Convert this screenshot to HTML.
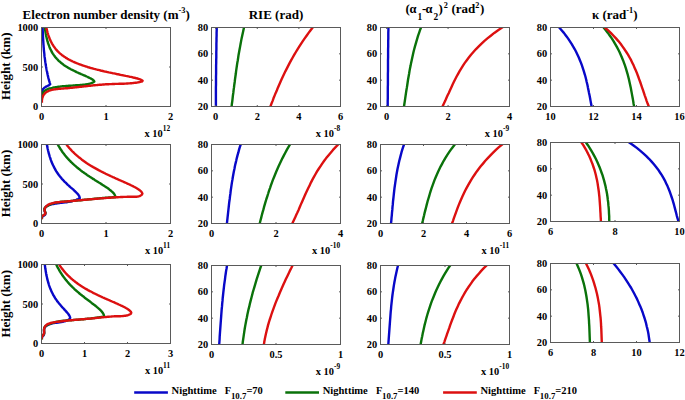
<!DOCTYPE html>
<html><head><meta charset="utf-8"><style>
html,body{margin:0;padding:0;background:#fff;}
svg{display:block;}
text{font-family:"Liberation Serif",serif;font-weight:bold;fill:#000;}
</style></head><body>
<svg width="685" height="400" viewBox="0 0 685 400">
<rect width="685" height="400" fill="#fff"/>

<text x="22.6" y="19" font-size="13">Electron number density (m<tspan font-size="8.3" dy="-6">-3</tspan><tspan dy="6">)</tspan></text>
<text x="276" y="19" font-size="13" text-anchor="middle">RIE (rad)</text>
<text y="13.1" font-size="13"><tspan x="405.5">(</tspan><tspan x="409.6" font-size="12.5">α</tspan><tspan x="417.6" font-size="9.4" dy="6.5">1</tspan><tspan x="422.1" dy="-6.5">-</tspan><tspan x="425.5" font-size="12.5">α</tspan><tspan x="433.6" font-size="9.4" dy="6.5">2</tspan><tspan x="438.6" dy="-6.5">)</tspan><tspan x="443.8" font-size="8.2" dy="-5.6">2</tspan><tspan x="451.4" dy="5.6">(rad</tspan><tspan x="475.3" font-size="8.2" dy="-5.6">2</tspan><tspan x="479.9" dy="5.6">)</tspan></text>
<text x="592" y="18.5" font-size="13">κ (rad<tspan font-size="8.3" dy="-5.2">-1</tspan><tspan dy="5.2">)</tspan></text>

<text x="0" y="0" font-size="13" text-anchor="middle" transform="translate(9.8,66.3) rotate(-90)">Height (km)</text>
<text x="0" y="0" font-size="13" text-anchor="middle" transform="translate(9.8,183.5) rotate(-90)">Height (km)</text>
<text x="0" y="0" font-size="13" text-anchor="middle" transform="translate(9.8,303.8) rotate(-90)">Height (km)</text>

<clipPath id="c00"><rect x="41.5" y="27.5" width="129" height="79"/></clipPath>
<g clip-path="url(#c00)">
<path d="M42.6,27.5 L42.6,28.4 L42.7,29.2 L42.7,30.1 L42.7,31.0 L42.8,31.8 L42.8,32.7 L42.9,33.6 L42.9,34.5 L42.9,35.3 L43.0,36.2 L43.0,37.1 L43.1,37.9 L43.1,38.8 L43.2,39.7 L43.2,40.6 L43.3,41.4 L43.3,42.3 L43.4,43.2 L43.4,44.0 L43.5,44.9 L43.6,45.8 L43.6,46.6 L43.7,47.5 L43.8,48.4 L43.8,49.2 L43.9,50.1 L44.0,51.0 L44.1,51.9 L44.2,52.7 L44.3,53.6 L44.4,54.4 L44.4,55.3 L44.5,56.2 L44.6,57.0 L44.8,57.9 L44.9,58.8 L45.0,59.6 L45.1,60.5 L45.2,61.4 L45.3,62.2 L45.5,63.1 L45.6,63.9 L45.7,64.8 L45.9,65.7 L46.0,66.5 L46.2,67.4 L46.3,68.2 L46.5,69.1 L46.6,69.9 L46.8,70.8 L47.0,71.6 L47.2,72.5 L47.3,73.3 L47.5,74.2 L47.7,75.0 L47.9,75.9 L48.1,76.7 L48.3,77.6 L48.5,78.4 L48.8,79.3 L49.0,80.1 L49.2,80.9 L49.5,81.8 L49.7,82.6 L50.0,83.5 L50.2,84.3 L49.8,84.6 L49.4,84.9 L48.9,85.2 L48.5,85.5 L48.0,85.7 L47.5,86.0 L47.1,86.2 L46.6,86.4 L46.1,86.7 L45.6,86.9 L45.2,87.2 L44.8,87.5 L44.3,87.8 L43.9,88.1 L43.6,88.5 L43.2,88.9 L42.9,89.3 L42.7,89.8 L42.3,91.4 L42.0,94.0" fill="none" stroke="#0808c8" stroke-width="2.4" stroke-linejoin="round" stroke-linecap="butt"/>
<path d="M44.8,27.5 L44.9,28.3 L45.0,29.1 L45.1,29.9 L45.3,30.8 L45.4,31.6 L45.5,32.4 L45.7,33.2 L45.8,34.0 L46.0,34.8 L46.1,35.7 L46.3,36.5 L46.5,37.3 L46.7,38.1 L46.9,38.9 L47.1,39.7 L47.3,40.5 L47.5,41.4 L47.8,42.2 L48.0,43.0 L48.3,43.8 L48.6,44.6 L48.9,45.4 L49.2,46.2 L49.5,47.1 L49.8,47.9 L50.2,48.7 L50.6,49.5 L51.0,50.3 L51.4,51.1 L51.8,52.0 L52.3,52.8 L52.8,53.6 L53.3,54.3 L53.7,54.9 L54.2,55.6 L54.7,56.3 L55.2,57.0 L55.8,57.7 L56.4,58.3 L57.0,59.0 L57.7,59.7 L58.3,60.4 L59.0,61.1 L59.6,61.6 L60.3,62.1 L60.9,62.7 L61.6,63.2 L62.3,63.8 L63.0,64.3 L63.7,64.9 L64.5,65.4 L65.3,65.9 L66.2,66.5 L67.0,67.0 L67.9,67.6 L68.6,68.0 L69.3,68.4 L70.1,68.8 L70.8,69.2 L71.6,69.6 L72.4,70.0 L73.2,70.4 L74.0,70.8 L74.8,71.2 L75.7,71.6 L76.6,72.1 L77.5,72.5 L78.4,72.9 L79.3,73.3 L80.2,73.7 L81.1,74.1 L82.1,74.5 L83.0,74.9 L84.0,75.3 L84.9,75.7 L85.8,76.1 L86.7,76.5 L87.7,76.9 L88.5,77.4 L89.4,77.8 L90.2,78.2 L91.0,78.6 L91.7,79.0 L92.5,79.5 L93.2,80.1 L93.9,80.7 L94.3,81.6 L93.6,82.1 L92.9,82.5 L92.1,82.8 L91.4,83.1 L90.6,83.3 L89.8,83.6 L89.0,83.8 L88.1,84.0 L87.3,84.1 L86.5,84.3 L85.6,84.4 L84.7,84.6 L83.9,84.7 L83.0,84.8 L82.1,84.9 L81.2,84.9 L80.3,85.0 L79.4,85.1 L78.6,85.2 L77.7,85.2 L76.8,85.3 L75.9,85.3 L75.0,85.4 L74.1,85.5 L73.2,85.5 L72.3,85.6 L71.4,85.6 L70.5,85.7 L69.6,85.7 L68.8,85.8 L67.9,85.9 L67.0,85.9 L66.1,86.0 L65.2,86.1 L64.3,86.1 L63.4,86.2 L62.6,86.3 L61.7,86.4 L60.8,86.5 L59.9,86.6 L59.0,86.7 L58.2,86.8 L57.3,86.9 L56.4,87.1 L55.6,87.2 L54.7,87.4 L53.9,87.5 L53.0,87.7 L52.2,87.9 L51.3,88.1 L50.5,88.3 L49.6,88.5 L48.8,88.7 L48.0,89.0 L47.2,89.3 L46.5,89.7 L45.1,90.5 L44.0,91.4 L43.0,92.7 L42.3,94.1 L42.1,95.0 L42.0,95.9 L41.9,96.9" fill="none" stroke="#0a720a" stroke-width="2.4" stroke-linejoin="round" stroke-linecap="butt"/>
<path d="M46.3,27.5 L46.5,28.3 L46.7,29.1 L46.9,29.9 L47.1,30.7 L47.3,31.5 L47.5,32.3 L47.7,33.1 L48.0,33.9 L48.2,34.8 L48.5,35.6 L48.8,36.4 L49.1,37.2 L49.4,38.0 L49.7,38.8 L50.0,39.6 L50.4,40.4 L50.8,41.2 L51.2,42.0 L51.6,42.8 L52.0,43.6 L52.5,44.4 L53.0,45.2 L53.4,45.9 L53.9,46.6 L54.4,47.2 L54.9,47.9 L55.4,48.6 L55.9,49.3 L56.5,49.9 L57.1,50.6 L57.8,51.3 L58.4,51.9 L59.1,52.6 L59.9,53.3 L60.5,53.8 L61.2,54.4 L61.8,54.9 L62.5,55.4 L63.3,56.0 L64.0,56.5 L64.8,57.1 L65.6,57.6 L66.5,58.1 L67.4,58.7 L68.1,59.1 L68.8,59.5 L69.6,59.9 L70.3,60.3 L71.1,60.7 L72.0,61.1 L72.8,61.5 L73.7,61.9 L74.6,62.3 L75.5,62.7 L76.5,63.1 L77.5,63.5 L78.5,63.9 L79.6,64.3 L80.7,64.7 L81.8,65.1 L82.6,65.4 L83.3,65.7 L84.1,65.9 L85.0,66.2 L85.8,66.5 L86.7,66.7 L87.5,67.0 L88.4,67.3 L89.3,67.5 L90.3,67.8 L91.2,68.1 L92.2,68.3 L93.2,68.6 L94.2,68.9 L95.2,69.1 L96.2,69.4 L97.3,69.7 L98.3,69.9 L99.4,70.2 L100.5,70.5 L101.7,70.8 L102.8,71.0 L104.0,71.3 L105.2,71.6 L106.4,71.8 L107.6,72.1 L108.8,72.4 L110.1,72.6 L111.3,72.9 L112.6,73.2 L113.9,73.4 L115.2,73.7 L116.5,74.0 L117.8,74.2 L119.1,74.5 L120.4,74.8 L121.7,75.1 L123.1,75.3 L124.4,75.6 L125.7,75.9 L127.0,76.1 L128.3,76.4 L129.5,76.7 L130.8,76.9 L132.0,77.2 L133.2,77.5 L134.3,77.7 L135.4,78.0 L136.5,78.3 L137.5,78.5 L138.4,78.8 L139.3,79.1 L140.1,79.4 L141.1,79.8 L141.9,80.2 L142.6,80.7 L142.0,81.5 L141.2,81.7 L140.4,81.9 L139.5,82.1 L138.7,82.3 L137.8,82.4 L136.9,82.6 L136.0,82.7 L135.1,82.8 L134.2,82.9 L133.3,83.0 L132.4,83.1 L131.5,83.2 L130.5,83.3 L129.6,83.4 L128.7,83.4 L127.7,83.5 L126.8,83.5 L125.8,83.6 L124.8,83.6 L123.9,83.7 L122.9,83.7 L122.0,83.7 L121.0,83.8 L120.0,83.8 L119.1,83.8 L118.1,83.9 L117.1,83.9 L116.2,83.9 L115.2,83.9 L114.3,84.0 L113.3,84.0 L112.4,84.0 L111.4,84.1 L110.5,84.1 L109.5,84.1 L108.6,84.2 L107.6,84.2 L106.7,84.3 L105.8,84.3 L104.9,84.4 L103.9,84.5 L103.0,84.5 L102.1,84.6 L101.2,84.7 L100.3,84.7 L99.4,84.8 L98.5,84.9 L97.6,85.0 L96.7,85.1 L95.8,85.1 L94.9,85.2 L94.0,85.3 L93.1,85.4 L92.2,85.5 L91.3,85.6 L90.4,85.7 L89.5,85.8 L88.6,85.9 L87.7,86.0 L86.8,86.1 L85.9,86.2 L85.0,86.3 L84.1,86.4 L83.2,86.5 L82.3,86.6 L81.4,86.7 L80.5,86.8 L79.6,86.9 L78.7,87.0 L77.7,87.1 L76.8,87.2 L75.9,87.3 L75.0,87.4 L74.0,87.5 L73.1,87.6 L72.2,87.7 L71.2,87.8 L70.3,87.9 L69.3,88.0 L68.4,88.1 L67.4,88.2 L66.4,88.3 L65.5,88.3 L64.5,88.4 L63.5,88.5 L62.5,88.6 L61.5,88.6 L60.5,88.7 L59.5,88.8 L58.5,88.9 L57.5,89.0 L56.6,89.1 L55.6,89.2 L54.6,89.4 L53.7,89.5 L52.8,89.7 L51.9,89.9 L51.0,90.1 L50.2,90.4 L49.3,90.7 L48.5,91.0 L47.8,91.4 L47.0,91.8 L46.3,92.2 L45.7,92.7 L45.1,93.2 L44.5,93.8 L44.0,94.4 L43.5,95.1 L43.1,95.8 L42.8,96.6 L42.5,97.5 L42.2,98.4 L42.1,99.4 L41.9,100.5 L41.9,101.6 L41.9,102.8" fill="none" stroke="#dc1010" stroke-width="2.4" stroke-linejoin="round" stroke-linecap="butt"/>
</g>
<rect x="41.5" y="27.5" width="129" height="79" fill="none" stroke="#5a5a5a" stroke-width="1"/>
<path d="M106.00,106.5 v-1.5 M106.00,27.5 v1.5" stroke="#5a5a5a" stroke-width="1"/>
<path d="M41.5,67.00 h1.5 M170.5,67.00 h-1.5" stroke="#5a5a5a" stroke-width="1"/>
<text x="41.50" y="119.50" font-size="10.4" text-anchor="middle" >0</text>
<text x="106.00" y="119.50" font-size="10.4" text-anchor="middle" >1</text>
<text x="170.50" y="119.50" font-size="10.4" text-anchor="middle" >2</text>
<text x="38.20" y="110.10" font-size="10.4" text-anchor="end" >0</text>
<text x="38.20" y="70.60" font-size="10.4" text-anchor="end" >500</text>
<text x="38.20" y="31.10" font-size="10.4" text-anchor="end" >1000</text>
<text x="170.10" y="136.70" font-size="10.4" text-anchor="end">x 10<tspan font-size="7.4" dy="-6.2">12</tspan></text>
<clipPath id="c01"><rect x="211.5" y="27.5" width="129" height="79"/></clipPath>
<g clip-path="url(#c01)">
<path d="M215.9,108.1 L215.9,106.5 L215.9,103.8 L215.9,101.1 L215.9,98.3 L215.9,95.6 L215.9,92.9 L215.9,90.2 L215.9,87.4 L216.0,84.7 L216.0,82.0 L216.0,79.3 L216.0,76.5 L216.1,73.8 L216.1,71.1 L216.1,68.4 L216.1,65.6 L216.2,62.9 L216.2,60.2 L216.3,57.5 L216.3,54.7 L216.3,52.0 L216.4,49.3 L216.4,46.6 L216.4,43.8 L216.5,41.1 L216.5,38.4 L216.6,35.7 L216.6,32.9 L216.7,30.2 L216.7,27.5 L216.7,25.9" fill="none" stroke="#0808c8" stroke-width="2.4" stroke-linejoin="round" stroke-linecap="butt"/>
<path d="M231.4,108.1 L231.6,106.5 L231.9,103.8 L232.3,101.1 L232.6,98.3 L232.9,95.6 L233.3,92.9 L233.6,90.2 L234.0,87.4 L234.3,84.7 L234.7,82.0 L235.0,79.3 L235.4,76.5 L235.8,73.8 L236.1,71.1 L236.5,68.4 L236.9,65.6 L237.3,62.9 L237.8,60.2 L238.2,57.5 L238.6,54.7 L239.1,52.0 L239.6,49.3 L240.1,46.6 L240.6,43.8 L241.1,41.1 L241.6,38.4 L242.2,35.7 L242.8,32.9 L243.4,30.2 L244.0,27.5 L244.4,25.9" fill="none" stroke="#0a720a" stroke-width="2.4" stroke-linejoin="round" stroke-linecap="butt"/>
<path d="M269.8,108.1 L270.4,106.5 L271.4,103.8 L272.5,101.1 L273.5,98.3 L274.6,95.6 L275.7,92.9 L276.9,90.2 L278.0,87.4 L279.2,84.7 L280.4,82.0 L281.6,79.3 L282.9,76.5 L284.2,73.8 L285.5,71.1 L286.9,68.4 L288.3,65.6 L289.7,62.9 L291.2,60.2 L292.7,57.5 L294.3,54.7 L295.9,52.0 L297.5,49.3 L299.2,46.6 L301.0,43.8 L302.8,41.1 L304.7,38.4 L306.6,35.7 L308.6,32.9 L310.6,30.2 L312.7,27.5 L313.9,25.9" fill="none" stroke="#dc1010" stroke-width="2.4" stroke-linejoin="round" stroke-linecap="butt"/>
</g>
<rect x="211.5" y="27.5" width="129" height="79" fill="none" stroke="#5a5a5a" stroke-width="1"/>
<path d="M215.66,106.5 v-1.5 M215.66,27.5 v1.5" stroke="#5a5a5a" stroke-width="1"/>
<path d="M257.27,106.5 v-1.5 M257.27,27.5 v1.5" stroke="#5a5a5a" stroke-width="1"/>
<path d="M298.89,106.5 v-1.5 M298.89,27.5 v1.5" stroke="#5a5a5a" stroke-width="1"/>
<path d="M211.5,80.17 h1.5 M340.5,80.17 h-1.5" stroke="#5a5a5a" stroke-width="1"/>
<path d="M211.5,53.83 h1.5 M340.5,53.83 h-1.5" stroke="#5a5a5a" stroke-width="1"/>
<text x="215.66" y="119.50" font-size="10.4" text-anchor="middle" >0</text>
<text x="257.27" y="119.50" font-size="10.4" text-anchor="middle" >2</text>
<text x="298.89" y="119.50" font-size="10.4" text-anchor="middle" >4</text>
<text x="340.50" y="119.50" font-size="10.4" text-anchor="middle" >6</text>
<text x="208.20" y="110.10" font-size="10.4" text-anchor="end" >20</text>
<text x="208.20" y="83.77" font-size="10.4" text-anchor="end" >40</text>
<text x="208.20" y="57.43" font-size="10.4" text-anchor="end" >60</text>
<text x="208.20" y="31.10" font-size="10.4" text-anchor="end" >80</text>
<text x="340.10" y="136.70" font-size="10.4" text-anchor="end">x 10<tspan font-size="7.4" dy="-6.2">-8</tspan></text>
<clipPath id="c02"><rect x="380.5" y="27.5" width="129" height="79"/></clipPath>
<g clip-path="url(#c02)">
<path d="M387.7,108.1 L387.7,106.5 L387.7,103.8 L387.7,101.1 L387.8,98.3 L387.8,95.6 L387.8,92.9 L387.8,90.2 L387.8,87.4 L387.9,84.7 L387.9,82.0 L387.9,79.3 L387.9,76.5 L387.9,73.8 L388.0,71.1 L388.0,68.4 L388.0,65.6 L388.0,62.9 L388.0,60.2 L388.1,57.5 L388.1,54.7 L388.1,52.0 L388.1,49.3 L388.2,46.6 L388.2,43.8 L388.2,41.1 L388.3,38.4 L388.3,35.7 L388.3,32.9 L388.4,30.2 L388.4,27.5 L388.4,25.9" fill="none" stroke="#0808c8" stroke-width="2.4" stroke-linejoin="round" stroke-linecap="butt"/>
<path d="M403.8,108.1 L404.0,106.5 L404.4,103.8 L404.8,101.1 L405.2,98.3 L405.6,95.6 L406.0,92.9 L406.4,90.2 L406.9,87.4 L407.3,84.7 L407.7,82.0 L408.1,79.3 L408.6,76.5 L409.1,73.8 L409.5,71.1 L410.0,68.4 L410.6,65.6 L411.1,62.9 L411.7,60.2 L412.3,57.5 L412.9,54.7 L413.5,52.0 L414.2,49.3 L414.9,46.6 L415.7,43.8 L416.5,41.1 L417.3,38.4 L418.1,35.7 L419.1,32.9 L420.0,30.2 L421.0,27.5 L421.6,25.9" fill="none" stroke="#0a720a" stroke-width="2.4" stroke-linejoin="round" stroke-linecap="butt"/>
<path d="M441.8,108.1 L442.5,106.5 L443.8,103.8 L445.1,101.1 L446.3,98.3 L447.5,95.6 L448.8,92.9 L450.0,90.2 L451.3,87.4 L452.5,84.7 L453.8,82.0 L455.2,79.3 L456.6,76.5 L458.1,73.8 L459.6,71.1 L461.3,68.4 L463.0,65.6 L464.8,62.9 L466.8,60.2 L468.8,57.5 L471.0,54.7 L473.4,52.0 L475.8,49.3 L478.5,46.6 L481.3,43.8 L484.2,41.1 L487.4,38.4 L490.8,35.7 L494.3,32.9 L498.1,30.2 L502.1,27.5 L504.5,25.9" fill="none" stroke="#dc1010" stroke-width="2.4" stroke-linejoin="round" stroke-linecap="butt"/>
</g>
<rect x="380.5" y="27.5" width="129" height="79" fill="none" stroke="#5a5a5a" stroke-width="1"/>
<path d="M386.64,106.5 v-1.5 M386.64,27.5 v1.5" stroke="#5a5a5a" stroke-width="1"/>
<path d="M448.07,106.5 v-1.5 M448.07,27.5 v1.5" stroke="#5a5a5a" stroke-width="1"/>
<path d="M380.5,80.17 h1.5 M509.5,80.17 h-1.5" stroke="#5a5a5a" stroke-width="1"/>
<path d="M380.5,53.83 h1.5 M509.5,53.83 h-1.5" stroke="#5a5a5a" stroke-width="1"/>
<text x="386.64" y="119.50" font-size="10.4" text-anchor="middle" >0</text>
<text x="448.07" y="119.50" font-size="10.4" text-anchor="middle" >2</text>
<text x="509.50" y="119.50" font-size="10.4" text-anchor="middle" >4</text>
<text x="377.20" y="110.10" font-size="10.4" text-anchor="end" >20</text>
<text x="377.20" y="83.77" font-size="10.4" text-anchor="end" >40</text>
<text x="377.20" y="57.43" font-size="10.4" text-anchor="end" >60</text>
<text x="377.20" y="31.10" font-size="10.4" text-anchor="end" >80</text>
<text x="509.10" y="136.70" font-size="10.4" text-anchor="end">x 10<tspan font-size="7.4" dy="-6.2">-9</tspan></text>
<clipPath id="c03"><rect x="550.5" y="27.5" width="129" height="79"/></clipPath>
<g clip-path="url(#c03)">
<path d="M591.9,108.1 L591.6,106.5 L591.1,103.8 L590.6,101.1 L590.1,98.3 L589.6,95.6 L589.0,92.9 L588.5,90.2 L587.9,87.4 L587.4,84.7 L586.7,82.0 L586.1,79.3 L585.4,76.5 L584.6,73.8 L583.8,71.1 L582.9,68.4 L582.0,65.6 L581.0,62.9 L579.9,60.2 L578.8,57.5 L577.5,54.7 L576.2,52.0 L574.8,49.3 L573.2,46.6 L571.6,43.8 L569.8,41.1 L568.0,38.4 L566.0,35.7 L563.9,32.9 L561.6,30.2 L559.2,27.5 L557.7,25.9" fill="none" stroke="#0808c8" stroke-width="2.4" stroke-linejoin="round" stroke-linecap="butt"/>
<path d="M634.3,108.1 L634.1,106.5 L633.6,103.8 L633.2,101.1 L632.7,98.3 L632.2,95.6 L631.7,92.9 L631.2,90.2 L630.7,87.4 L630.1,84.7 L629.5,82.0 L628.9,79.3 L628.2,76.5 L627.5,73.8 L626.7,71.1 L625.9,68.4 L625.0,65.6 L624.0,62.9 L623.0,60.2 L621.9,57.5 L620.7,54.7 L619.5,52.0 L618.1,49.3 L616.7,46.6 L615.1,43.8 L613.5,41.1 L611.8,38.4 L609.9,35.7 L607.9,32.9 L605.8,30.2 L603.6,27.5 L602.3,25.9" fill="none" stroke="#0a720a" stroke-width="2.4" stroke-linejoin="round" stroke-linecap="butt"/>
<path d="M649.4,108.1 L648.8,106.5 L647.7,103.8 L646.7,101.1 L645.8,98.3 L644.8,95.6 L643.9,92.9 L643.0,90.2 L642.0,87.4 L641.1,84.7 L640.2,82.0 L639.2,79.3 L638.2,76.5 L637.2,73.8 L636.1,71.1 L634.9,68.4 L633.7,65.6 L632.4,62.9 L631.1,60.2 L629.6,57.5 L628.0,54.7 L626.3,52.0 L624.5,49.3 L622.6,46.6 L620.6,43.8 L618.4,41.1 L616.0,38.4 L613.5,35.7 L610.8,32.9 L607.9,30.2 L604.8,27.5 L603.0,25.9" fill="none" stroke="#dc1010" stroke-width="2.4" stroke-linejoin="round" stroke-linecap="butt"/>
</g>
<rect x="550.5" y="27.5" width="129" height="79" fill="none" stroke="#5a5a5a" stroke-width="1"/>
<path d="M593.50,106.5 v-1.5 M593.50,27.5 v1.5" stroke="#5a5a5a" stroke-width="1"/>
<path d="M636.50,106.5 v-1.5 M636.50,27.5 v1.5" stroke="#5a5a5a" stroke-width="1"/>
<path d="M550.5,80.17 h1.5 M679.5,80.17 h-1.5" stroke="#5a5a5a" stroke-width="1"/>
<path d="M550.5,53.83 h1.5 M679.5,53.83 h-1.5" stroke="#5a5a5a" stroke-width="1"/>
<text x="550.50" y="119.50" font-size="10.4" text-anchor="middle" >10</text>
<text x="593.50" y="119.50" font-size="10.4" text-anchor="middle" >12</text>
<text x="636.50" y="119.50" font-size="10.4" text-anchor="middle" >14</text>
<text x="679.50" y="119.50" font-size="10.4" text-anchor="middle" >16</text>
<text x="547.20" y="110.10" font-size="10.4" text-anchor="end" >20</text>
<text x="547.20" y="83.77" font-size="10.4" text-anchor="end" >40</text>
<text x="547.20" y="57.43" font-size="10.4" text-anchor="end" >60</text>
<text x="547.20" y="31.10" font-size="10.4" text-anchor="end" >80</text>
<clipPath id="c10"><rect x="41.5" y="144.5" width="129" height="79"/></clipPath>
<g clip-path="url(#c10)">
<path d="M46.9,144.5 L47.0,145.3 L47.2,146.1 L47.3,146.9 L47.5,147.7 L47.6,148.5 L47.8,149.3 L48.0,150.2 L48.2,151.0 L48.4,151.8 L48.6,152.6 L48.8,153.4 L49.0,154.2 L49.3,155.0 L49.5,155.8 L49.7,156.6 L50.0,157.4 L50.3,158.2 L50.5,159.0 L50.8,159.9 L51.1,160.7 L51.4,161.5 L51.7,162.3 L52.1,163.1 L52.4,163.9 L52.8,164.7 L53.2,165.5 L53.6,166.3 L54.0,167.1 L54.4,167.9 L54.8,168.7 L55.3,169.5 L55.7,170.4 L56.2,171.2 L56.8,172.0 L57.2,172.6 L57.6,173.3 L58.1,174.0 L58.6,174.7 L59.1,175.3 L59.6,176.0 L60.2,176.7 L60.7,177.4 L61.3,178.0 L61.8,178.7 L62.4,179.4 L63.1,180.0 L63.7,180.7 L64.3,181.4 L65.0,182.1 L65.7,182.7 L66.4,183.4 L67.1,184.1 L67.8,184.8 L68.5,185.4 L69.1,186.0 L69.7,186.5 L70.3,187.1 L70.9,187.6 L71.5,188.1 L72.2,188.7 L72.8,189.2 L73.4,189.7 L74.0,190.3 L74.7,191.0 L75.4,191.6 L76.1,192.3 L76.8,193.0 L77.4,193.7 L78.0,194.3 L78.5,195.0 L78.9,195.7 L79.4,196.5 L79.6,197.3 L79.8,198.1 L78.9,198.7 L78.0,199.1 L77.1,199.4 L76.3,199.8 L75.5,200.1 L74.6,200.4 L73.8,200.6 L73.0,200.9 L72.2,201.1 L71.4,201.3 L70.6,201.5 L69.9,201.6 L68.3,201.9 L66.7,202.2 L65.2,202.4 L63.6,202.5 L62.8,202.6 L62.0,202.7 L61.2,202.8 L60.4,202.9 L59.5,203.0 L58.7,203.1 L57.9,203.2 L57.0,203.3 L56.1,203.5 L55.2,203.6 L54.3,203.8 L53.4,204.0 L52.5,204.2 L51.5,204.4 L50.6,204.6 L49.6,204.9 L48.7,205.2 L47.9,205.6 L47.1,206.0 L46.4,206.4 L45.3,207.5 L44.6,208.9 L44.6,210.5 L44.7,211.3 L45.1,212.2 L45.4,213.0 L45.3,214.5 L44.7,215.1 L44.0,215.6 L43.1,216.0 L42.4,216.4 L42.1,217.9" fill="none" stroke="#0808c8" stroke-width="2.4" stroke-linejoin="round" stroke-linecap="butt"/>
<path d="M57.8,144.5 L58.2,145.3 L58.7,146.1 L59.2,146.9 L59.6,147.7 L60.1,148.5 L60.6,149.3 L61.2,150.0 L61.7,150.8 L62.1,151.5 L62.6,152.2 L63.1,152.8 L63.6,153.5 L64.1,154.1 L64.6,154.8 L65.1,155.5 L65.7,156.1 L66.2,156.8 L66.8,157.4 L67.4,158.1 L68.0,158.8 L68.6,159.4 L69.2,160.1 L69.8,160.7 L70.5,161.4 L71.1,162.1 L71.8,162.7 L72.5,163.4 L73.2,164.0 L73.9,164.7 L74.7,165.4 L75.3,165.9 L75.9,166.4 L76.5,167.0 L77.1,167.5 L77.8,168.0 L78.4,168.5 L79.1,169.1 L79.8,169.6 L80.4,170.1 L81.1,170.7 L81.8,171.2 L82.5,171.7 L83.3,172.2 L84.0,172.8 L84.7,173.3 L85.5,173.8 L86.2,174.3 L87.0,174.9 L87.8,175.4 L88.6,175.9 L89.4,176.5 L90.2,177.0 L91.0,177.5 L91.8,178.0 L92.6,178.6 L93.5,179.1 L94.3,179.6 L95.1,180.2 L96.0,180.7 L96.8,181.2 L97.6,181.7 L98.5,182.3 L99.3,182.8 L100.2,183.3 L101.0,183.9 L101.9,184.4 L102.7,184.9 L103.5,185.4 L104.3,186.0 L105.1,186.5 L105.9,187.0 L106.7,187.6 L107.5,188.1 L108.2,188.6 L108.9,189.1 L109.6,189.7 L110.3,190.2 L111.0,190.7 L111.6,191.3 L112.3,191.9 L113.0,192.6 L113.6,193.2 L114.1,193.9 L114.6,194.7 L115.0,195.5 L115.3,196.3 L115.4,197.2 L114.5,197.2 L113.5,197.3 L112.6,197.3 L111.7,197.4 L110.8,197.4 L109.9,197.5 L109.0,197.5 L108.0,197.6 L107.1,197.7 L106.2,197.7 L105.3,197.8 L104.4,197.9 L103.5,198.0 L102.6,198.0 L101.7,198.1 L100.8,198.2 L99.9,198.3 L99.0,198.4 L98.1,198.4 L97.2,198.5 L96.3,198.6 L95.4,198.7 L94.5,198.8 L93.6,198.9 L92.7,199.0 L91.8,199.1 L90.9,199.2 L90.0,199.2 L89.2,199.3 L88.3,199.4 L87.4,199.5 L86.5,199.6 L85.6,199.7 L84.7,199.8 L83.8,199.9 L82.9,200.0 L82.0,200.1 L81.1,200.2 L80.2,200.2 L79.3,200.3 L78.4,200.4 L77.5,200.5 L76.6,200.6 L75.7,200.7 L74.7,200.7 L73.8,200.8 L72.9,200.9 L72.0,201.0 L71.1,201.0 L70.2,201.1 L69.3,201.2 L68.3,201.2 L67.4,201.3 L66.5,201.4 L65.6,201.4 L64.6,201.5 L63.7,201.6 L62.8,201.6 L61.9,201.7 L61.0,201.8 L60.0,201.9 L59.1,202.1 L58.2,202.2 L57.3,202.4 L56.5,202.5 L55.6,202.7 L54.7,202.9 L53.8,203.2 L53.0,203.4 L52.1,203.7 L51.3,204.0 L50.5,204.3 L49.7,204.7 L48.9,205.1 L48.1,205.5 L47.3,206.0 L46.6,206.5 L45.8,207.0 L45.1,207.6 L44.6,208.3 L44.4,209.1 L44.5,210.0 L44.8,211.0 L45.2,211.9 L45.5,212.7 L45.0,214.2 L44.2,214.8 L43.4,215.3 L42.6,215.7 L42.0,216.2 L41.6,217.9 L42.1,219.3" fill="none" stroke="#0a720a" stroke-width="2.4" stroke-linejoin="round" stroke-linecap="butt"/>
<path d="M66.4,144.5 L67.0,145.2 L67.6,146.0 L68.1,146.6 L68.6,147.2 L69.2,147.9 L69.7,148.5 L70.3,149.1 L70.8,149.7 L71.4,150.3 L72.0,151.0 L72.6,151.6 L73.3,152.2 L73.9,152.8 L74.6,153.5 L75.2,154.1 L75.9,154.7 L76.6,155.3 L77.3,155.9 L78.1,156.6 L78.8,157.2 L79.6,157.8 L80.4,158.4 L81.0,158.9 L81.6,159.4 L82.3,159.9 L83.0,160.4 L83.7,160.9 L84.4,161.4 L85.1,161.9 L85.8,162.4 L86.5,162.9 L87.3,163.4 L88.0,163.9 L88.8,164.4 L89.6,164.9 L90.4,165.4 L91.2,165.9 L92.0,166.4 L92.9,166.9 L93.7,167.4 L94.6,167.9 L95.5,168.4 L96.4,168.9 L97.3,169.4 L98.2,169.9 L99.1,170.4 L99.8,170.7 L100.5,171.1 L101.3,171.5 L102.0,171.9 L102.7,172.2 L103.5,172.6 L104.2,173.0 L105.0,173.3 L105.7,173.7 L106.5,174.1 L107.3,174.5 L108.1,174.8 L108.9,175.2 L109.7,175.6 L110.5,176.0 L111.3,176.3 L112.1,176.7 L112.9,177.1 L113.7,177.4 L114.5,177.8 L115.4,178.2 L116.2,178.6 L117.0,178.9 L117.9,179.3 L118.7,179.7 L119.5,180.1 L120.4,180.4 L121.2,180.8 L122.1,181.2 L122.9,181.5 L123.7,181.9 L124.6,182.3 L125.4,182.7 L126.2,183.0 L127.0,183.4 L127.9,183.8 L128.7,184.2 L129.5,184.5 L130.3,184.9 L131.0,185.3 L131.8,185.7 L132.6,186.0 L133.3,186.4 L134.0,186.8 L135.0,187.3 L135.9,187.8 L136.7,188.3 L137.5,188.8 L138.3,189.3 L139.0,189.8 L139.7,190.3 L140.5,190.9 L141.1,191.5 L141.6,192.1 L142.1,192.9 L142.4,193.7 L141.8,194.8 L141.1,195.3 L140.3,195.7 L139.6,196.1 L138.7,196.3 L137.9,196.5 L137.0,196.7 L136.1,196.8 L135.1,196.8 L134.2,196.8 L133.2,196.8 L132.3,196.8 L131.3,196.8 L130.3,196.8 L129.4,196.8 L128.4,196.8 L127.4,196.8 L126.5,196.9 L125.5,196.9 L124.5,196.9 L123.6,196.9 L122.6,197.0 L121.7,197.0 L120.7,197.0 L119.8,197.1 L118.8,197.1 L117.9,197.2 L116.9,197.2 L116.0,197.3 L115.1,197.3 L114.1,197.4 L113.2,197.5 L112.2,197.5 L111.3,197.6 L110.4,197.7 L109.5,197.7 L108.5,197.8 L107.6,197.9 L106.7,197.9 L105.8,198.0 L104.9,198.1 L104.0,198.1 L103.0,198.2 L102.1,198.3 L101.2,198.4 L100.3,198.4 L99.4,198.5 L98.5,198.6 L97.6,198.7 L96.7,198.7 L95.8,198.8 L94.9,198.9 L94.0,199.0 L93.1,199.1 L92.2,199.1 L91.3,199.2 L90.4,199.3 L89.5,199.4 L88.6,199.5 L87.7,199.5 L86.8,199.6 L85.9,199.7 L85.0,199.8 L84.1,199.9 L83.2,199.9 L82.3,200.0 L81.4,200.1 L80.5,200.2 L79.6,200.3 L78.7,200.4 L77.7,200.4 L76.8,200.5 L75.9,200.6 L75.0,200.7 L74.0,200.8 L73.1,200.9 L72.1,201.0 L71.2,201.0 L70.3,201.1 L69.3,201.2 L68.3,201.3 L67.4,201.4 L66.4,201.5 L65.4,201.6 L64.5,201.6 L63.5,201.7 L62.5,201.8 L61.5,201.9 L60.5,202.0 L59.5,202.1 L58.5,202.2 L57.5,202.3 L56.5,202.4 L55.5,202.5 L54.5,202.7 L53.6,202.9 L52.7,203.1 L51.8,203.3 L50.9,203.6 L50.0,203.9 L49.2,204.2 L48.5,204.6 L47.7,205.1 L47.1,205.6 L46.4,206.1 L45.9,206.7 L45.4,207.4 L44.9,208.2 L44.7,209.0 L44.5,209.8 L44.6,210.7 L44.9,211.6 L45.3,212.6 L45.4,213.4 L44.4,214.7 L43.6,215.2 L42.6,215.7 L41.9,216.2 L41.4,216.9 L41.4,217.9 L42.1,219.3" fill="none" stroke="#dc1010" stroke-width="2.4" stroke-linejoin="round" stroke-linecap="butt"/>
</g>
<rect x="41.5" y="144.5" width="129" height="79" fill="none" stroke="#5a5a5a" stroke-width="1"/>
<path d="M106.00,223.5 v-1.5 M106.00,144.5 v1.5" stroke="#5a5a5a" stroke-width="1"/>
<path d="M41.5,184.00 h1.5 M170.5,184.00 h-1.5" stroke="#5a5a5a" stroke-width="1"/>
<text x="41.50" y="236.50" font-size="10.4" text-anchor="middle" >0</text>
<text x="106.00" y="236.50" font-size="10.4" text-anchor="middle" >1</text>
<text x="170.50" y="236.50" font-size="10.4" text-anchor="middle" >2</text>
<text x="38.20" y="227.10" font-size="10.4" text-anchor="end" >0</text>
<text x="38.20" y="187.60" font-size="10.4" text-anchor="end" >500</text>
<text x="38.20" y="148.10" font-size="10.4" text-anchor="end" >1000</text>
<text x="170.10" y="253.70" font-size="10.4" text-anchor="end">x 10<tspan font-size="7.4" dy="-6.2">11</tspan></text>
<clipPath id="c11"><rect x="211.5" y="144.5" width="129" height="79"/></clipPath>
<g clip-path="url(#c11)">
<path d="M226.7,225.1 L226.9,223.5 L227.2,220.8 L227.5,218.1 L227.8,215.3 L228.1,212.6 L228.4,209.9 L228.7,207.2 L229.0,204.4 L229.3,201.7 L229.7,199.0 L230.0,196.3 L230.4,193.5 L230.7,190.8 L231.1,188.1 L231.5,185.4 L231.9,182.6 L232.4,179.9 L232.8,177.2 L233.3,174.5 L233.8,171.7 L234.4,169.0 L234.9,166.3 L235.5,163.6 L236.2,160.8 L236.8,158.1 L237.5,155.4 L238.3,152.7 L239.0,149.9 L239.8,147.2 L240.7,144.5 L241.2,142.9" fill="none" stroke="#0808c8" stroke-width="2.4" stroke-linejoin="round" stroke-linecap="butt"/>
<path d="M259.3,225.1 L259.7,223.5 L260.4,220.8 L261.1,218.1 L261.8,215.3 L262.5,212.6 L263.3,209.9 L264.0,207.2 L264.8,204.4 L265.6,201.7 L266.4,199.0 L267.3,196.3 L268.2,193.5 L269.0,190.8 L270.0,188.1 L270.9,185.4 L271.9,182.6 L272.9,179.9 L274.0,177.2 L275.1,174.5 L276.2,171.7 L277.4,169.0 L278.6,166.3 L279.9,163.6 L281.2,160.8 L282.5,158.1 L283.9,155.4 L285.3,152.7 L286.8,149.9 L288.4,147.2 L290.0,144.5 L291.0,142.9" fill="none" stroke="#0a720a" stroke-width="2.4" stroke-linejoin="round" stroke-linecap="butt"/>
<path d="M291.5,225.1 L292.3,223.5 L293.6,220.8 L294.9,218.1 L296.1,215.3 L297.4,212.6 L298.6,209.9 L299.7,207.2 L300.9,204.4 L302.1,201.7 L303.3,199.0 L304.5,196.3 L305.7,193.5 L307.0,190.8 L308.3,188.1 L309.6,185.4 L310.9,182.6 L312.3,179.9 L313.8,177.2 L315.3,174.5 L316.9,171.7 L318.6,169.0 L320.4,166.3 L322.2,163.6 L324.2,160.8 L326.2,158.1 L328.4,155.4 L330.7,152.7 L333.0,149.9 L335.6,147.2 L338.2,144.5 L339.8,142.9" fill="none" stroke="#dc1010" stroke-width="2.4" stroke-linejoin="round" stroke-linecap="butt"/>
</g>
<rect x="211.5" y="144.5" width="129" height="79" fill="none" stroke="#5a5a5a" stroke-width="1"/>
<path d="M276.00,223.5 v-1.5 M276.00,144.5 v1.5" stroke="#5a5a5a" stroke-width="1"/>
<path d="M211.5,197.17 h1.5 M340.5,197.17 h-1.5" stroke="#5a5a5a" stroke-width="1"/>
<path d="M211.5,170.83 h1.5 M340.5,170.83 h-1.5" stroke="#5a5a5a" stroke-width="1"/>
<text x="211.50" y="236.50" font-size="10.4" text-anchor="middle" >0</text>
<text x="276.00" y="236.50" font-size="10.4" text-anchor="middle" >2</text>
<text x="340.50" y="236.50" font-size="10.4" text-anchor="middle" >4</text>
<text x="208.20" y="227.10" font-size="10.4" text-anchor="end" >20</text>
<text x="208.20" y="200.77" font-size="10.4" text-anchor="end" >40</text>
<text x="208.20" y="174.43" font-size="10.4" text-anchor="end" >60</text>
<text x="208.20" y="148.10" font-size="10.4" text-anchor="end" >80</text>
<text x="340.10" y="253.70" font-size="10.4" text-anchor="end">x 10<tspan font-size="7.4" dy="-6.2">-10</tspan></text>
<clipPath id="c12"><rect x="380.5" y="144.5" width="129" height="79"/></clipPath>
<g clip-path="url(#c12)">
<path d="M390.8,225.1 L391.0,223.5 L391.3,220.8 L391.5,218.1 L391.8,215.3 L392.0,212.6 L392.3,209.9 L392.5,207.2 L392.8,204.4 L393.0,201.7 L393.3,199.0 L393.6,196.3 L393.9,193.5 L394.2,190.8 L394.5,188.1 L394.9,185.4 L395.3,182.6 L395.7,179.9 L396.1,177.2 L396.5,174.5 L397.0,171.7 L397.5,169.0 L398.1,166.3 L398.7,163.6 L399.3,160.8 L400.0,158.1 L400.7,155.4 L401.4,152.7 L402.2,149.9 L403.1,147.2 L404.0,144.5 L404.5,142.9" fill="none" stroke="#0808c8" stroke-width="2.4" stroke-linejoin="round" stroke-linecap="butt"/>
<path d="M421.7,225.1 L422.1,223.5 L422.8,220.8 L423.4,218.1 L424.1,215.3 L424.7,212.6 L425.4,209.9 L426.1,207.2 L426.8,204.4 L427.5,201.7 L428.3,199.0 L429.1,196.3 L429.9,193.5 L430.7,190.8 L431.6,188.1 L432.6,185.4 L433.6,182.6 L434.6,179.9 L435.7,177.2 L436.9,174.5 L438.1,171.7 L439.4,169.0 L440.7,166.3 L442.2,163.6 L443.7,160.8 L445.3,158.1 L447.0,155.4 L448.8,152.7 L450.7,149.9 L452.7,147.2 L454.8,144.5 L456.1,142.9" fill="none" stroke="#0a720a" stroke-width="2.4" stroke-linejoin="round" stroke-linecap="butt"/>
<path d="M451.5,225.1 L452.0,223.5 L453.0,220.8 L453.9,218.1 L454.9,215.3 L455.9,212.6 L456.9,209.9 L457.9,207.2 L459.0,204.4 L460.1,201.7 L461.3,199.0 L462.5,196.3 L463.8,193.5 L465.1,190.8 L466.5,188.1 L468.0,185.4 L469.6,182.6 L471.2,179.9 L472.9,177.2 L474.7,174.5 L476.6,171.7 L478.6,169.0 L480.7,166.3 L483.0,163.6 L485.3,160.8 L487.8,158.1 L490.4,155.4 L493.1,152.7 L495.9,149.9 L498.9,147.2 L502.1,144.5 L504.0,142.9" fill="none" stroke="#dc1010" stroke-width="2.4" stroke-linejoin="round" stroke-linecap="butt"/>
</g>
<rect x="380.5" y="144.5" width="129" height="79" fill="none" stroke="#5a5a5a" stroke-width="1"/>
<path d="M423.50,223.5 v-1.5 M423.50,144.5 v1.5" stroke="#5a5a5a" stroke-width="1"/>
<path d="M466.50,223.5 v-1.5 M466.50,144.5 v1.5" stroke="#5a5a5a" stroke-width="1"/>
<path d="M380.5,197.17 h1.5 M509.5,197.17 h-1.5" stroke="#5a5a5a" stroke-width="1"/>
<path d="M380.5,170.83 h1.5 M509.5,170.83 h-1.5" stroke="#5a5a5a" stroke-width="1"/>
<text x="380.50" y="236.50" font-size="10.4" text-anchor="middle" >0</text>
<text x="423.50" y="236.50" font-size="10.4" text-anchor="middle" >2</text>
<text x="466.50" y="236.50" font-size="10.4" text-anchor="middle" >4</text>
<text x="509.50" y="236.50" font-size="10.4" text-anchor="middle" >6</text>
<text x="377.20" y="227.10" font-size="10.4" text-anchor="end" >20</text>
<text x="377.20" y="200.77" font-size="10.4" text-anchor="end" >40</text>
<text x="377.20" y="174.43" font-size="10.4" text-anchor="end" >60</text>
<text x="377.20" y="148.10" font-size="10.4" text-anchor="end" >80</text>
<text x="509.10" y="253.70" font-size="10.4" text-anchor="end">x 10<tspan font-size="7.4" dy="-6.2">-11</tspan></text>
<clipPath id="c13"><rect x="550.5" y="142.5" width="129" height="79"/></clipPath>
<g clip-path="url(#c13)">
<path d="M678.8,223.1 L678.4,221.5 L677.7,218.8 L676.9,216.1 L676.2,213.3 L675.5,210.6 L674.8,207.9 L674.1,205.2 L673.3,202.4 L672.5,199.7 L671.6,197.0 L670.7,194.3 L669.7,191.5 L668.6,188.8 L667.5,186.1 L666.2,183.4 L664.9,180.6 L663.4,177.9 L661.8,175.2 L660.0,172.5 L658.2,169.7 L656.1,167.0 L653.9,164.3 L651.6,161.6 L649.0,158.8 L646.3,156.1 L643.3,153.4 L640.1,150.7 L636.8,147.9 L633.2,145.2 L629.3,142.5 L627.0,140.9" fill="none" stroke="#0808c8" stroke-width="2.4" stroke-linejoin="round" stroke-linecap="butt"/>
<path d="M609.3,223.1 L609.3,221.5 L609.2,218.8 L609.2,216.1 L609.0,213.3 L608.9,210.6 L608.7,207.9 L608.4,205.2 L608.2,202.4 L607.8,199.7 L607.5,197.0 L607.1,194.3 L606.6,191.5 L606.0,188.8 L605.5,186.1 L604.8,183.4 L604.1,180.6 L603.3,177.9 L602.5,175.2 L601.5,172.5 L600.5,169.7 L599.5,167.0 L598.3,164.3 L597.1,161.6 L595.8,158.8 L594.4,156.1 L592.9,153.4 L591.3,150.7 L589.6,147.9 L587.9,145.2 L586.0,142.5 L584.9,140.9" fill="none" stroke="#0a720a" stroke-width="2.4" stroke-linejoin="round" stroke-linecap="butt"/>
<path d="M601.0,223.1 L600.9,221.5 L600.8,218.8 L600.6,216.1 L600.5,213.3 L600.3,210.6 L600.2,207.9 L600.0,205.2 L599.8,202.4 L599.6,199.7 L599.4,197.0 L599.1,194.3 L598.8,191.5 L598.4,188.8 L598.0,186.1 L597.6,183.4 L597.1,180.6 L596.5,177.9 L595.9,175.2 L595.2,172.5 L594.4,169.7 L593.5,167.0 L592.6,164.3 L591.5,161.6 L590.4,158.8 L589.2,156.1 L587.9,153.4 L586.5,150.7 L584.9,147.9 L583.3,145.2 L581.5,142.5 L580.4,140.9" fill="none" stroke="#dc1010" stroke-width="2.4" stroke-linejoin="round" stroke-linecap="butt"/>
</g>
<rect x="550.5" y="142.5" width="129" height="79" fill="none" stroke="#5a5a5a" stroke-width="1"/>
<path d="M615.00,221.5 v-1.5 M615.00,142.5 v1.5" stroke="#5a5a5a" stroke-width="1"/>
<path d="M550.5,195.17 h1.5 M679.5,195.17 h-1.5" stroke="#5a5a5a" stroke-width="1"/>
<path d="M550.5,168.83 h1.5 M679.5,168.83 h-1.5" stroke="#5a5a5a" stroke-width="1"/>
<text x="550.50" y="234.50" font-size="10.4" text-anchor="middle" >6</text>
<text x="615.00" y="234.50" font-size="10.4" text-anchor="middle" >8</text>
<text x="679.50" y="234.50" font-size="10.4" text-anchor="middle" >10</text>
<text x="547.20" y="225.10" font-size="10.4" text-anchor="end" >20</text>
<text x="547.20" y="198.77" font-size="10.4" text-anchor="end" >40</text>
<text x="547.20" y="172.43" font-size="10.4" text-anchor="end" >60</text>
<text x="547.20" y="146.10" font-size="10.4" text-anchor="end" >80</text>
<clipPath id="c20"><rect x="41.5" y="264.5" width="129" height="79"/></clipPath>
<g clip-path="url(#c20)">
<path d="M44.8,264.5 L44.9,265.3 L45.0,266.1 L45.1,266.9 L45.2,267.8 L45.3,268.6 L45.5,269.4 L45.6,270.2 L45.7,271.0 L45.8,271.8 L46.0,272.6 L46.1,273.5 L46.3,274.3 L46.4,275.1 L46.6,275.9 L46.8,276.7 L47.0,277.5 L47.1,278.3 L47.3,279.1 L47.5,280.0 L47.8,280.8 L48.0,281.6 L48.2,282.4 L48.4,283.2 L48.7,284.0 L48.9,284.8 L49.2,285.7 L49.5,286.5 L49.8,287.3 L50.1,288.1 L50.4,288.9 L50.8,289.7 L51.1,290.5 L51.5,291.4 L51.9,292.2 L52.3,293.0 L52.7,293.8 L53.1,294.6 L53.5,295.4 L54.0,296.2 L54.5,297.0 L55.0,297.9 L55.4,298.5 L55.9,299.2 L56.4,299.9 L56.9,300.6 L57.3,301.3 L57.9,301.9 L58.4,302.6 L58.9,303.3 L59.5,304.0 L60.0,304.6 L60.6,305.3 L61.2,306.0 L61.8,306.7 L62.4,307.4 L63.0,308.0 L63.7,308.7 L64.3,309.4 L64.9,310.1 L65.5,310.7 L66.1,311.4 L66.7,312.1 L67.3,312.8 L67.9,313.5 L68.4,314.1 L68.8,314.8 L69.3,315.5 L69.7,316.3 L70.0,317.1 L70.2,317.9 L69.5,319.1 L68.8,319.6 L68.0,320.0 L67.2,320.4 L66.5,320.7 L65.7,321.0 L64.2,321.4 L62.7,321.8 L61.2,322.1 L59.6,322.3 L58.1,322.5 L56.5,322.7 L54.9,322.9 L54.1,323.0 L53.3,323.2 L52.5,323.4 L51.7,323.5 L50.9,323.8 L50.0,324.0 L49.2,324.3 L48.4,324.7 L47.6,325.1 L46.8,325.5 L46.1,326.0 L45.5,326.5 L44.6,327.7 L44.1,329.2 L44.1,330.0 L44.0,330.8 L44.1,331.6 L44.1,332.5 L44.1,333.3 L44.1,334.1 L43.5,335.5 L42.8,336.0 L42.1,336.6 L42.1,338.3" fill="none" stroke="#0808c8" stroke-width="2.4" stroke-linejoin="round" stroke-linecap="butt"/>
<path d="M56.3,264.5 L56.6,265.3 L57.0,266.1 L57.4,266.9 L57.8,267.6 L58.2,268.4 L58.7,269.2 L59.1,270.0 L59.6,270.8 L60.0,271.6 L60.5,272.3 L61.0,273.1 L61.5,273.9 L62.0,274.7 L62.6,275.5 L63.1,276.3 L63.6,276.9 L64.1,277.6 L64.6,278.2 L65.1,278.9 L65.6,279.5 L66.1,280.2 L66.7,280.8 L67.2,281.5 L67.8,282.1 L68.3,282.8 L68.9,283.4 L69.5,284.1 L70.1,284.7 L70.7,285.4 L71.4,286.0 L72.0,286.7 L72.7,287.3 L73.4,288.0 L74.1,288.7 L74.7,289.3 L75.5,290.0 L76.2,290.6 L76.9,291.3 L77.7,291.9 L78.3,292.4 L78.9,293.0 L79.5,293.5 L80.1,294.0 L80.8,294.5 L81.4,295.1 L82.1,295.6 L82.7,296.1 L83.4,296.6 L84.1,297.1 L84.7,297.7 L85.4,298.2 L86.1,298.7 L86.8,299.2 L87.5,299.8 L88.2,300.3 L88.9,300.8 L89.6,301.3 L90.3,301.8 L91.0,302.4 L91.6,302.9 L92.3,303.4 L93.0,303.9 L93.7,304.5 L94.4,305.0 L95.1,305.5 L95.7,306.0 L96.4,306.5 L97.0,307.1 L97.6,307.6 L98.2,308.1 L99.0,308.8 L99.7,309.4 L100.4,310.1 L101.0,310.7 L101.6,311.4 L102.1,312.0 L102.6,312.7 L103.1,313.5 L103.5,314.2 L103.9,315.0 L104.0,315.8 L103.2,316.7 L102.3,316.9 L101.4,317.0 L100.5,317.2 L99.7,317.3 L98.8,317.4 L97.9,317.5 L97.0,317.7 L96.1,317.8 L95.2,317.9 L94.3,318.0 L93.5,318.1 L92.6,318.2 L91.7,318.3 L90.8,318.5 L89.9,318.6 L89.0,318.6 L88.1,318.7 L87.3,318.8 L86.4,318.9 L85.5,319.0 L84.6,319.1 L83.7,319.2 L82.8,319.3 L81.9,319.4 L81.0,319.4 L80.2,319.5 L79.3,319.6 L78.4,319.7 L77.5,319.7 L76.6,319.8 L75.7,319.9 L74.8,319.9 L73.9,320.0 L73.0,320.1 L72.1,320.1 L71.2,320.2 L70.3,320.3 L69.4,320.3 L68.5,320.4 L67.6,320.4 L66.7,320.5 L65.8,320.6 L64.9,320.7 L64.0,320.7 L63.1,320.8 L62.2,320.9 L61.3,321.0 L60.4,321.2 L59.5,321.3 L58.6,321.4 L57.7,321.6 L56.9,321.8 L56.0,321.9 L55.1,322.2 L54.3,322.4 L53.4,322.6 L52.6,322.9 L51.7,323.2 L50.9,323.5 L50.1,323.8 L49.3,324.1 L48.4,324.5 L47.6,324.9 L46.9,325.3 L46.1,325.8 L45.4,326.3 L44.8,326.9 L44.3,327.6 L44.1,328.5 L44.0,329.4 L44.0,330.3 L44.1,331.3 L44.2,332.2 L44.2,333.1 L44.0,333.9 L43.6,334.6 L43.0,335.3 L42.3,335.9 L41.7,336.6 L41.5,337.5 L41.8,338.5 L42.1,339.6" fill="none" stroke="#0a720a" stroke-width="2.4" stroke-linejoin="round" stroke-linecap="butt"/>
<path d="M59.2,264.5 L59.6,265.2 L60.1,266.0 L60.6,266.7 L61.1,267.4 L61.7,268.2 L62.2,268.9 L62.8,269.6 L63.4,270.4 L64.0,271.1 L64.5,271.7 L65.0,272.3 L65.6,273.0 L66.1,273.6 L66.7,274.2 L67.3,274.8 L67.9,275.4 L68.5,276.0 L69.2,276.6 L69.8,277.2 L70.5,277.9 L71.2,278.5 L71.9,279.1 L72.6,279.7 L73.4,280.3 L74.1,280.9 L74.9,281.5 L75.5,282.0 L76.2,282.5 L76.9,283.0 L77.5,283.5 L78.2,284.0 L78.9,284.5 L79.7,285.0 L80.4,285.5 L81.1,285.9 L81.9,286.4 L82.7,286.9 L83.5,287.4 L84.3,287.9 L85.1,288.4 L85.9,288.9 L86.8,289.4 L87.7,289.9 L88.5,290.4 L89.4,290.9 L90.3,291.3 L91.3,291.8 L92.2,292.3 L92.9,292.7 L93.6,293.1 L94.4,293.4 L95.1,293.8 L95.9,294.2 L96.6,294.5 L97.4,294.9 L98.2,295.3 L98.9,295.6 L99.7,296.0 L100.5,296.4 L101.3,296.7 L102.1,297.1 L102.9,297.5 L103.7,297.8 L104.6,298.2 L105.4,298.6 L106.2,298.9 L107.1,299.3 L107.9,299.7 L108.7,300.0 L109.6,300.4 L110.4,300.8 L111.3,301.1 L112.1,301.5 L113.0,301.9 L113.8,302.2 L114.7,302.6 L115.5,303.0 L116.3,303.4 L117.2,303.7 L118.0,304.1 L118.8,304.5 L119.6,304.8 L120.4,305.2 L121.2,305.6 L121.9,305.9 L122.7,306.3 L123.4,306.7 L124.1,307.0 L125.1,307.5 L125.9,308.0 L126.8,308.5 L127.6,309.0 L128.3,309.5 L129.0,310.0 L129.7,310.6 L130.3,311.2 L130.9,311.9 L131.3,312.7 L130.7,313.9 L130.0,314.3 L129.2,314.7 L128.4,315.0 L127.6,315.3 L126.7,315.5 L125.8,315.7 L125.0,315.8 L124.1,315.9 L123.1,316.0 L122.2,316.1 L121.3,316.1 L120.3,316.2 L119.4,316.2 L118.4,316.2 L117.4,316.2 L116.5,316.3 L115.5,316.3 L114.6,316.3 L113.6,316.4 L112.7,316.4 L111.7,316.5 L110.8,316.6 L109.8,316.6 L108.9,316.7 L107.9,316.8 L107.0,316.9 L106.0,317.0 L105.1,317.1 L104.2,317.1 L103.2,317.2 L102.3,317.3 L101.4,317.4 L100.5,317.5 L99.5,317.6 L98.6,317.7 L97.7,317.8 L96.8,317.9 L95.9,318.0 L95.0,318.1 L94.1,318.2 L93.1,318.3 L92.2,318.4 L91.3,318.5 L90.4,318.6 L89.5,318.6 L88.7,318.7 L87.8,318.8 L86.9,318.9 L86.0,318.9 L85.1,319.0 L84.2,319.1 L83.3,319.2 L82.4,319.2 L81.5,319.3 L80.6,319.4 L79.7,319.5 L78.8,319.5 L77.9,319.6 L77.0,319.7 L76.1,319.8 L75.2,319.8 L74.3,319.9 L73.4,320.0 L72.5,320.1 L71.6,320.2 L70.7,320.3 L69.8,320.3 L68.9,320.4 L68.0,320.5 L67.0,320.6 L66.1,320.7 L65.2,320.8 L64.2,320.9 L63.3,321.0 L62.3,321.2 L61.4,321.3 L60.4,321.4 L59.5,321.5 L58.5,321.7 L57.5,321.8 L56.5,321.9 L55.5,322.1 L54.5,322.2 L53.6,322.4 L52.6,322.6 L51.6,322.8 L50.7,323.0 L49.8,323.3 L48.9,323.6 L48.1,323.9 L47.3,324.3 L46.6,324.8 L46.0,325.3 L45.4,325.9 L44.9,326.6 L44.6,327.4 L44.3,328.2 L44.1,329.1 L44.1,330.1 L44.1,331.0 L44.1,332.0 L44.1,332.9 L43.9,333.7 L43.5,334.5 L43.1,335.2 L42.6,335.9 L42.1,336.7 L41.7,337.5 L41.5,338.4 L41.7,339.4" fill="none" stroke="#dc1010" stroke-width="2.4" stroke-linejoin="round" stroke-linecap="butt"/>
</g>
<rect x="41.5" y="264.5" width="129" height="79" fill="none" stroke="#5a5a5a" stroke-width="1"/>
<path d="M84.50,343.5 v-1.5 M84.50,264.5 v1.5" stroke="#5a5a5a" stroke-width="1"/>
<path d="M127.50,343.5 v-1.5 M127.50,264.5 v1.5" stroke="#5a5a5a" stroke-width="1"/>
<path d="M41.5,304.00 h1.5 M170.5,304.00 h-1.5" stroke="#5a5a5a" stroke-width="1"/>
<text x="41.50" y="356.50" font-size="10.4" text-anchor="middle" >0</text>
<text x="84.50" y="356.50" font-size="10.4" text-anchor="middle" >1</text>
<text x="127.50" y="356.50" font-size="10.4" text-anchor="middle" >2</text>
<text x="170.50" y="356.50" font-size="10.4" text-anchor="middle" >3</text>
<text x="38.20" y="347.10" font-size="10.4" text-anchor="end" >0</text>
<text x="38.20" y="307.60" font-size="10.4" text-anchor="end" >500</text>
<text x="38.20" y="268.10" font-size="10.4" text-anchor="end" >1000</text>
<text x="170.10" y="373.70" font-size="10.4" text-anchor="end">x 10<tspan font-size="7.4" dy="-6.2">11</tspan></text>
<clipPath id="c21"><rect x="211.5" y="265.5" width="129" height="79"/></clipPath>
<g clip-path="url(#c21)">
<path d="M219.1,346.1 L219.2,344.5 L219.4,341.8 L219.6,339.1 L219.7,336.3 L219.9,333.6 L220.1,330.9 L220.3,328.2 L220.5,325.4 L220.7,322.7 L220.9,320.0 L221.1,317.3 L221.3,314.5 L221.5,311.8 L221.7,309.1 L222.0,306.4 L222.2,303.6 L222.5,300.9 L222.7,298.2 L223.0,295.5 L223.3,292.7 L223.6,290.0 L223.9,287.3 L224.2,284.6 L224.6,281.8 L225.0,279.1 L225.3,276.4 L225.7,273.7 L226.1,270.9 L226.6,268.2 L227.0,265.5 L227.3,263.9" fill="none" stroke="#0808c8" stroke-width="2.4" stroke-linejoin="round" stroke-linecap="butt"/>
<path d="M242.3,346.1 L242.5,344.5 L242.8,341.8 L243.2,339.1 L243.6,336.3 L244.0,333.6 L244.4,330.9 L244.8,328.2 L245.3,325.4 L245.8,322.7 L246.3,320.0 L246.9,317.3 L247.4,314.5 L248.0,311.8 L248.6,309.1 L249.3,306.4 L249.9,303.6 L250.6,300.9 L251.3,298.2 L252.0,295.5 L252.7,292.7 L253.5,290.0 L254.3,287.3 L255.1,284.6 L255.9,281.8 L256.7,279.1 L257.6,276.4 L258.5,273.7 L259.4,270.9 L260.3,268.2 L261.2,265.5 L261.7,263.9" fill="none" stroke="#0a720a" stroke-width="2.4" stroke-linejoin="round" stroke-linecap="butt"/>
<path d="M263.7,346.1 L263.9,344.5 L264.3,341.8 L264.8,339.1 L265.4,336.3 L266.0,333.6 L266.6,330.9 L267.3,328.2 L268.0,325.4 L268.8,322.7 L269.6,320.0 L270.5,317.3 L271.4,314.5 L272.3,311.8 L273.3,309.1 L274.3,306.4 L275.3,303.6 L276.4,300.9 L277.5,298.2 L278.7,295.5 L279.8,292.7 L281.0,290.0 L282.2,287.3 L283.4,284.6 L284.7,281.8 L285.9,279.1 L287.2,276.4 L288.5,273.7 L289.8,270.9 L291.2,268.2 L292.5,265.5 L293.3,263.9" fill="none" stroke="#dc1010" stroke-width="2.4" stroke-linejoin="round" stroke-linecap="butt"/>
</g>
<rect x="211.5" y="265.5" width="129" height="79" fill="none" stroke="#5a5a5a" stroke-width="1"/>
<path d="M276.00,344.5 v-1.5 M276.00,265.5 v1.5" stroke="#5a5a5a" stroke-width="1"/>
<path d="M211.5,318.17 h1.5 M340.5,318.17 h-1.5" stroke="#5a5a5a" stroke-width="1"/>
<path d="M211.5,291.83 h1.5 M340.5,291.83 h-1.5" stroke="#5a5a5a" stroke-width="1"/>
<text x="211.50" y="357.50" font-size="10.4" text-anchor="middle" >0</text>
<text x="276.00" y="357.50" font-size="10.4" text-anchor="middle" >0.5</text>
<text x="340.50" y="357.50" font-size="10.4" text-anchor="middle" >1</text>
<text x="208.20" y="348.10" font-size="10.4" text-anchor="end" >20</text>
<text x="208.20" y="321.77" font-size="10.4" text-anchor="end" >40</text>
<text x="208.20" y="295.43" font-size="10.4" text-anchor="end" >60</text>
<text x="208.20" y="269.10" font-size="10.4" text-anchor="end" >80</text>
<text x="340.10" y="374.70" font-size="10.4" text-anchor="end">x 10<tspan font-size="7.4" dy="-6.2">-9</tspan></text>
<clipPath id="c22"><rect x="380.5" y="265.5" width="129" height="79"/></clipPath>
<g clip-path="url(#c22)">
<path d="M388.2,346.1 L388.3,344.5 L388.5,341.8 L388.7,339.1 L388.9,336.3 L389.1,333.6 L389.3,330.9 L389.5,328.2 L389.7,325.4 L389.9,322.7 L390.1,320.0 L390.3,317.3 L390.5,314.5 L390.7,311.8 L391.0,309.1 L391.2,306.4 L391.5,303.6 L391.8,300.9 L392.1,298.2 L392.4,295.5 L392.8,292.7 L393.2,290.0 L393.6,287.3 L394.0,284.6 L394.5,281.8 L395.0,279.1 L395.5,276.4 L396.1,273.7 L396.7,270.9 L397.3,268.2 L398.0,265.5 L398.4,263.9" fill="none" stroke="#0808c8" stroke-width="2.4" stroke-linejoin="round" stroke-linecap="butt"/>
<path d="M420.3,346.1 L420.6,344.5 L421.1,341.8 L421.6,339.1 L422.2,336.3 L422.7,333.6 L423.3,330.9 L423.9,328.2 L424.5,325.4 L425.2,322.7 L425.9,320.0 L426.6,317.3 L427.4,314.5 L428.2,311.8 L429.1,309.1 L430.0,306.4 L430.9,303.6 L431.9,300.9 L433.0,298.2 L434.1,295.5 L435.2,292.7 L436.4,290.0 L437.7,287.3 L439.0,284.6 L440.4,281.8 L441.8,279.1 L443.3,276.4 L444.9,273.7 L446.6,270.9 L448.3,268.2 L450.1,265.5 L451.2,263.9" fill="none" stroke="#0a720a" stroke-width="2.4" stroke-linejoin="round" stroke-linecap="butt"/>
<path d="M442.8,346.1 L443.4,344.5 L444.4,341.8 L445.3,339.1 L446.3,336.3 L447.2,333.6 L448.2,330.9 L449.2,328.2 L450.1,325.4 L451.1,322.7 L452.1,320.0 L453.2,317.3 L454.2,314.5 L455.3,311.8 L456.5,309.1 L457.7,306.4 L459.0,303.6 L460.4,300.9 L461.8,298.2 L463.3,295.5 L464.9,292.7 L466.5,290.0 L468.3,287.3 L470.2,284.6 L472.1,281.8 L474.2,279.1 L476.4,276.4 L478.8,273.7 L481.2,270.9 L483.8,268.2 L486.6,265.5 L488.3,263.9" fill="none" stroke="#dc1010" stroke-width="2.4" stroke-linejoin="round" stroke-linecap="butt"/>
</g>
<rect x="380.5" y="265.5" width="129" height="79" fill="none" stroke="#5a5a5a" stroke-width="1"/>
<path d="M445.00,344.5 v-1.5 M445.00,265.5 v1.5" stroke="#5a5a5a" stroke-width="1"/>
<path d="M380.5,318.17 h1.5 M509.5,318.17 h-1.5" stroke="#5a5a5a" stroke-width="1"/>
<path d="M380.5,291.83 h1.5 M509.5,291.83 h-1.5" stroke="#5a5a5a" stroke-width="1"/>
<text x="380.50" y="357.50" font-size="10.4" text-anchor="middle" >0</text>
<text x="445.00" y="357.50" font-size="10.4" text-anchor="middle" >0.5</text>
<text x="509.50" y="357.50" font-size="10.4" text-anchor="middle" >1</text>
<text x="377.20" y="348.10" font-size="10.4" text-anchor="end" >20</text>
<text x="377.20" y="321.77" font-size="10.4" text-anchor="end" >40</text>
<text x="377.20" y="295.43" font-size="10.4" text-anchor="end" >60</text>
<text x="377.20" y="269.10" font-size="10.4" text-anchor="end" >80</text>
<text x="509.10" y="374.70" font-size="10.4" text-anchor="end">x 10<tspan font-size="7.4" dy="-6.2">-10</tspan></text>
<clipPath id="c23"><rect x="550.5" y="263.5" width="129" height="79"/></clipPath>
<g clip-path="url(#c23)">
<path d="M649.9,344.1 L649.7,342.5 L649.3,339.8 L648.9,337.1 L648.5,334.3 L648.0,331.6 L647.4,328.9 L646.7,326.2 L646.1,323.4 L645.3,320.7 L644.5,318.0 L643.6,315.3 L642.7,312.5 L641.7,309.8 L640.6,307.1 L639.4,304.4 L638.2,301.6 L637.0,298.9 L635.6,296.2 L634.2,293.5 L632.7,290.7 L631.2,288.0 L629.5,285.3 L627.8,282.6 L626.0,279.8 L624.2,277.1 L622.2,274.4 L620.2,271.7 L618.1,268.9 L616.0,266.2 L613.7,263.5 L612.4,261.9" fill="none" stroke="#0808c8" stroke-width="2.4" stroke-linejoin="round" stroke-linecap="butt"/>
<path d="M590.0,344.1 L589.9,342.5 L589.8,339.8 L589.7,337.1 L589.6,334.3 L589.5,331.6 L589.4,328.9 L589.3,326.2 L589.1,323.4 L589.0,320.7 L588.8,318.0 L588.6,315.3 L588.4,312.5 L588.2,309.8 L587.9,307.1 L587.6,304.4 L587.2,301.6 L586.8,298.9 L586.4,296.2 L585.9,293.5 L585.4,290.7 L584.8,288.0 L584.2,285.3 L583.5,282.6 L582.7,279.8 L581.9,277.1 L581.0,274.4 L580.0,271.7 L578.9,268.9 L577.8,266.2 L576.6,263.5 L575.9,261.9" fill="none" stroke="#0a720a" stroke-width="2.4" stroke-linejoin="round" stroke-linecap="butt"/>
<path d="M601.8,344.1 L601.8,342.5 L601.7,339.8 L601.6,337.1 L601.5,334.3 L601.4,331.6 L601.3,328.9 L601.1,326.2 L601.0,323.4 L600.8,320.7 L600.6,318.0 L600.3,315.3 L600.0,312.5 L599.7,309.8 L599.4,307.1 L599.0,304.4 L598.5,301.6 L598.0,298.9 L597.5,296.2 L596.9,293.5 L596.2,290.7 L595.5,288.0 L594.7,285.3 L593.9,282.6 L593.0,279.8 L592.0,277.1 L591.0,274.4 L589.9,271.7 L588.7,268.9 L587.4,266.2 L586.0,263.5 L585.2,261.9" fill="none" stroke="#dc1010" stroke-width="2.4" stroke-linejoin="round" stroke-linecap="butt"/>
</g>
<rect x="550.5" y="263.5" width="129" height="79" fill="none" stroke="#5a5a5a" stroke-width="1"/>
<path d="M593.50,342.5 v-1.5 M593.50,263.5 v1.5" stroke="#5a5a5a" stroke-width="1"/>
<path d="M636.50,342.5 v-1.5 M636.50,263.5 v1.5" stroke="#5a5a5a" stroke-width="1"/>
<path d="M550.5,316.17 h1.5 M679.5,316.17 h-1.5" stroke="#5a5a5a" stroke-width="1"/>
<path d="M550.5,289.83 h1.5 M679.5,289.83 h-1.5" stroke="#5a5a5a" stroke-width="1"/>
<text x="550.50" y="355.50" font-size="10.4" text-anchor="middle" >6</text>
<text x="593.50" y="355.50" font-size="10.4" text-anchor="middle" >8</text>
<text x="636.50" y="355.50" font-size="10.4" text-anchor="middle" >10</text>
<text x="679.50" y="355.50" font-size="10.4" text-anchor="middle" >12</text>
<text x="547.20" y="346.10" font-size="10.4" text-anchor="end" >20</text>
<text x="547.20" y="319.77" font-size="10.4" text-anchor="end" >40</text>
<text x="547.20" y="293.43" font-size="10.4" text-anchor="end" >60</text>
<text x="547.20" y="267.10" font-size="10.4" text-anchor="end" >80</text>
<line x1="134.2" y1="392.5" x2="167.89999999999998" y2="392.5" stroke="#0808c8" stroke-width="2.5"/>
<text x="171.6" y="394" font-size="10.55">Nighttime</text>
<text x="224.8" y="394" font-size="10.4">F</text><text x="230.9" y="399" font-size="8.9">10.7</text><text x="246.4" y="394" font-size="10.5">=70</text>
<line x1="285.3" y1="392.5" x2="319.0" y2="392.5" stroke="#0a720a" stroke-width="2.5"/>
<text x="322.7" y="394" font-size="10.55">Nighttime</text>
<text x="375.9" y="394" font-size="10.4">F</text><text x="382.0" y="399" font-size="8.9">10.7</text><text x="397.5" y="394" font-size="10.5">=140</text>
<line x1="443.1" y1="392.5" x2="476.8" y2="392.5" stroke="#dc1010" stroke-width="2.5"/>
<text x="480.5" y="394" font-size="10.55">Nighttime</text>
<text x="533.7" y="394" font-size="10.4">F</text><text x="539.8" y="399" font-size="8.9">10.7</text><text x="555.3" y="394" font-size="10.5">=210</text>

</svg>
</body></html>
